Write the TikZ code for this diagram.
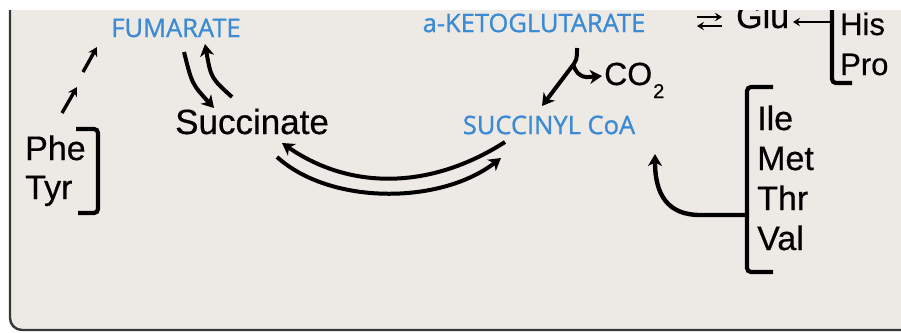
\documentclass[tikz,border=0pt]{standalone}
\usepackage{fontspec}
\setmainfont[FakeBold=0.5]{Liberation Sans}
\newfontfamily\metfont[FakeBold=0.9]{Open Sans}
\usetikzlibrary{arrows.meta}
\definecolor{panelfill}{RGB}{237,234,230}
\definecolor{panelline}{RGB}{55,55,55}
\definecolor{metblue}{RGB}{58,138,212}
\tikzset{
  aa/.style={font=\fontsize{34}{34}\selectfont, inner sep=0pt, anchor=base west},
  aasmall/.style={aa, font=\fontsize{31}{31}\selectfont},
  met/.style={font=\metfont\fontsize{25.5}{25.5}\selectfont, text=metblue, inner sep=0pt},
  flow/.style={line width=4pt, -{Stealth[length=12pt,width=14pt,inset=3.5pt]}},
  thinflow/.style={line width=3.4pt, -{Stealth[length=9pt,width=10pt,inset=3pt]}},
  tinyflow/.style={line width=2.8pt, -{Stealth[length=7pt,width=8.5pt,inset=2.5pt]}},
  bracket/.style={line width=4.2pt, rounded corners=4pt},
}
\begin{document}
\begin{tikzpicture}[x=1pt,y=-1pt]
\useasboundingbox (0,0) rectangle (901,332);

% grey panel with its left and bottom border
\fill[panelfill, rounded corners=12pt] (10,-40) -- (10,330) -- (940,330) -- (940,-40) -- cycle;
\draw[panelline, line width=2.4pt, rounded corners=12pt] (10,-40) -- (10,330) -- (940,330);

% metabolites
\node[met] (fum)  at (176,28)  {FUMARATE};
\node[met] (keto) at (534,23)  {a-KETOGLUTARATE};
\node[met] (scoa) at (549,125) {SUCCINYL CoA};
\node[aa, font=\fontsize{35}{35}\selectfont] (succ) at (175,134) {Succinate};
\node[aa, font=\fontsize{32}{32}\selectfont] (co2) at (604,85)
  {CO\kern1pt\raisebox{-13pt}{\fontsize{20}{20}\selectfont 2}};

% amino acids
\node[aa] (phe) at (25,160) {Phe};
\node[aa] (tyr) at (25,199) {Tyr};
\node[aa] (glu) at (736,28) {Glu};
\node[aasmall] (his) at (840,35) {His};
\node[aasmall] (pro) at (840,75) {Pro};
\node[aa] (ile) at (757,130) {Ile};
\node[aa] (met) at (757,170) {Met};
\node[aa] (thr) at (757,210) {Thr};
\node[aa] (val) at (757,250) {Val};

% brackets grouping amino acids
\coordinate (hpA) at (832,0);   \coordinate (hpB) at (832,83);  \coordinate (hpC) at (852,83);
\draw[bracket] (hpA) -- (hpB) -- (hpC);
\coordinate (ivA) at (773,87);  \coordinate (ivB) at (747,87);
\coordinate (ivC) at (747,272); \coordinate (ivD) at (773,272);
\draw[bracket] (ivA) -- (ivB) -- (ivC) -- (ivD);
\coordinate (ptA) at (76,129);  \coordinate (ptB) at (98,129);
\coordinate (ptC) at (98,213);  \coordinate (ptD) at (78,213);
\draw[bracket] (ptA) -- (ptB) -- (ptC) -- (ptD);

% Phe/Tyr to fumarate (two short steps)
\coordinate (pf1) at (62,113); \coordinate (pf2) at (77,87);
\coordinate (pf3) at (83,72);  \coordinate (pf4) at (97,47);
\draw[thinflow] (pf1) -- (pf2);
\draw[thinflow] (pf3) -- (pf4);

% fumarate <-> succinate
\coordinate (fs1) at (184,52);  \coordinate (fs2) at (214,108);
\coordinate (sf1) at (232,97);  \coordinate (sf2) at (205,44);
\draw[flow] (fs1) .. controls (192,84) .. (fs2);
\draw[flow] (sf1) .. controls (211,78) .. (sf2);

% succinyl CoA <-> succinate
\coordinate (cs1) at (505,142); \coordinate (cs2) at (282,143);
\coordinate (sc1) at (277,157); \coordinate (sc2) at (501,158);
\draw[flow] (cs1) .. controls (430,190) and (350,190) .. (cs2);
\draw[flow] (sc1) .. controls (330,205) and (440,205) .. (sc2);

% alpha-ketoglutarate -> succinyl CoA + CO2
\coordinate (ks1) at (577,48); \coordinate (ks2) at (570,69); \coordinate (ks3) at (542,106);
\coordinate (kc1) at (573,64); \coordinate (kc2) at (602,76);
\draw[flow] (ks1) .. controls (577,60) .. (ks2) -- (ks3);
\draw[flow] (kc1) .. controls (578,80) and (588,77) .. (kc2);

% Ile, Met, Thr, Val -> succinyl CoA
\coordinate (iv1) at (747,215); \coordinate (iv2) at (700,215); \coordinate (iv3) at (655,154);
\draw[flow, line width=4.4pt] (iv1) -- (iv2) .. controls (668,215) and (655,195) .. (iv3);

% Glu exchange and His/Pro -> Glu
\coordinate (ge1) at (697,17); \coordinate (ge2) at (722,17);
\coordinate (ge3) at (722,26); \coordinate (ge4) at (697,26);
\draw[tinyflow] (ge1) -- (ge2);
\draw[tinyflow] (ge3) -- (ge4);
\coordinate (hg1) at (832,22); \coordinate (hg2) at (793,22);
\draw[tinyflow] (hg1) -- (hg2);

% white strip along the top edge
\fill[white] (-10,-10) rectangle (911,10);
\end{tikzpicture}
\end{document}
